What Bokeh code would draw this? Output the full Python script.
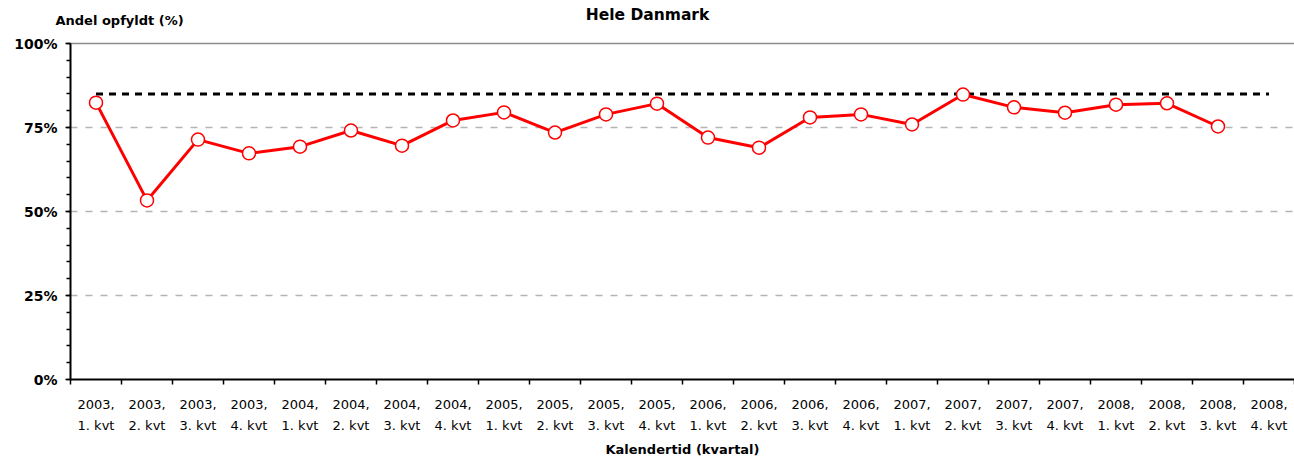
from bokeh.plotting import figure
from bokeh.models import FixedTicker, Label
from bokeh.embed import file_html
from bokeh.resources import INLINE

years = ["2003"] * 4 + ["2004"] * 4 + ["2005"] * 4 + ["2006"] * 4 + ["2007"] * 4 + ["2008"] * 4
quarters = ["1. kvt", "2. kvt", "3. kvt", "4. kvt"] * 6
values = [82.4, 53.3, 71.4, 67.3, 69.3, 74.1, 69.6, 77.1, 79.5, 73.5, 78.9, 82.1,
          72.0, 69.0, 78.0, 78.9, 75.9, 84.8, 81.0, 79.4, 81.8, 82.2, 75.3]
target = 85
y_ticks = [0, 25, 50, 75, 100]
grid_dashed = [25, 50, 75]

FONT = "DejaVu Sans"
n = len(years)
centers = [i + 0.5 for i in range(n)]
labels = {c: f"{y},\n{q}" for c, y, q in zip(centers, years, quarters)}

# layout: the frame covers the whole picture; the axes sit at data 0
# so that all texts lie inside the frame
W, H = 1294, 459
LEFT, TOP, BOTTOM = 70, 43, 80
px_x = (W - LEFT) / n
px_y = (H - BOTTOM - TOP) / 100.0
x_start = -LEFT / px_x
y_start = -BOTTOM / px_y
y_end = (H - BOTTOM) / px_y

p = figure(width=W, height=H, x_range=(x_start, n), y_range=(y_start, y_end),
           output_backend="svg", toolbar_location=None,
           min_border_left=0, min_border_right=0, min_border_top=0, min_border_bottom=0)
p.outline_line_color = None
p.background_fill_color = "white"
p.border_fill_color = "white"
p.xgrid.grid_line_color = None
p.ygrid.grid_line_color = None

# x axis, fixed at y = 0
p.xaxis.fixed_location = 0
p.xaxis.bounds = (0, n)
p.xaxis.ticker = FixedTicker(ticks=centers, minor_ticks=list(range(n + 1)))
p.xaxis.major_label_overrides = labels
p.xaxis.major_tick_line_color = None
p.xaxis.major_tick_out = 5
p.xaxis.major_tick_in = 0
p.xaxis.minor_tick_out = 5
p.xaxis.minor_tick_in = 0
p.xaxis.minor_tick_line_color = "black"
p.xaxis.minor_tick_line_width = 1.5
p.xaxis.axis_line_width = 2
p.xaxis.major_label_text_font = FONT
p.xaxis.major_label_text_font_size = "13px"
p.xaxis.major_label_text_line_height = 1.4
p.xaxis.major_label_text_color = "black"
p.xaxis.major_label_standoff = 12

# y axis, fixed at x = 0
p.yaxis.fixed_location = 0
p.yaxis.bounds = (0, 100)
p.yaxis.ticker = FixedTicker(ticks=y_ticks, minor_ticks=list(range(0, 101, 5)))
p.yaxis.major_label_overrides = {t: f"{t}%" for t in y_ticks}
p.yaxis.major_tick_out = 5
p.yaxis.major_tick_in = 0
p.yaxis.minor_tick_out = 4
p.yaxis.minor_tick_in = 0
p.yaxis.major_tick_line_width = 1.5
p.yaxis.minor_tick_line_width = 1.5
p.yaxis.axis_line_width = 2
p.yaxis.major_label_text_font = FONT
p.yaxis.major_label_text_font_size = "14px"
p.yaxis.major_label_text_font_style = "bold"
p.yaxis.major_label_text_color = "black"
p.yaxis.major_label_standoff = 8

# grid lines (from the tick values), drawn only over the data area
p.segment(x0=0, x1=n, y0=grid_dashed, y1=grid_dashed, line_color="#b4b4b4",
          line_width=1.5, line_dash="7 8", level="underlay")
p.segment(x0=0, x1=n, y0=y_ticks[-1], y1=y_ticks[-1], line_color="#8c8c8c",
          line_width=1.5, level="underlay")

# target line
p.line([centers[0], centers[-1]], [target, target], line_color="black",
       line_width=3, line_dash="7 6")

# data
xs = centers[:len(values)]
p.line(xs, values, line_color="#ff0000", line_width=3)
p.scatter(xs, values, size=13, fill_color="white", line_color="#ff0000", line_width=1.5)

# texts (screen units from the frame's bottom-left = picture's bottom-left)
p.add_layout(Label(x=647, y=H - 14, x_units="screen", y_units="screen", text="Hele Danmark",
                   text_font=FONT, text_font_size="15.5px", text_font_style="bold",
                   text_color="black", text_align="center", text_baseline="middle"))
p.add_layout(Label(x=55, y=H - 20, x_units="screen", y_units="screen", text="Andel opfyldt (%)",
                   text_font=FONT, text_font_size="13px", text_font_style="bold",
                   text_color="black", text_align="left", text_baseline="middle"))
p.add_layout(Label(x=(LEFT + W) / 2, y=H - 449, x_units="screen", y_units="screen",
                   text="Kalendertid (kvartal)",
                   text_font=FONT, text_font_size="13px", text_font_style="bold",
                   text_color="black", text_align="center", text_baseline="middle"))

open("out.html", "w").write(file_html(p, INLINE))
